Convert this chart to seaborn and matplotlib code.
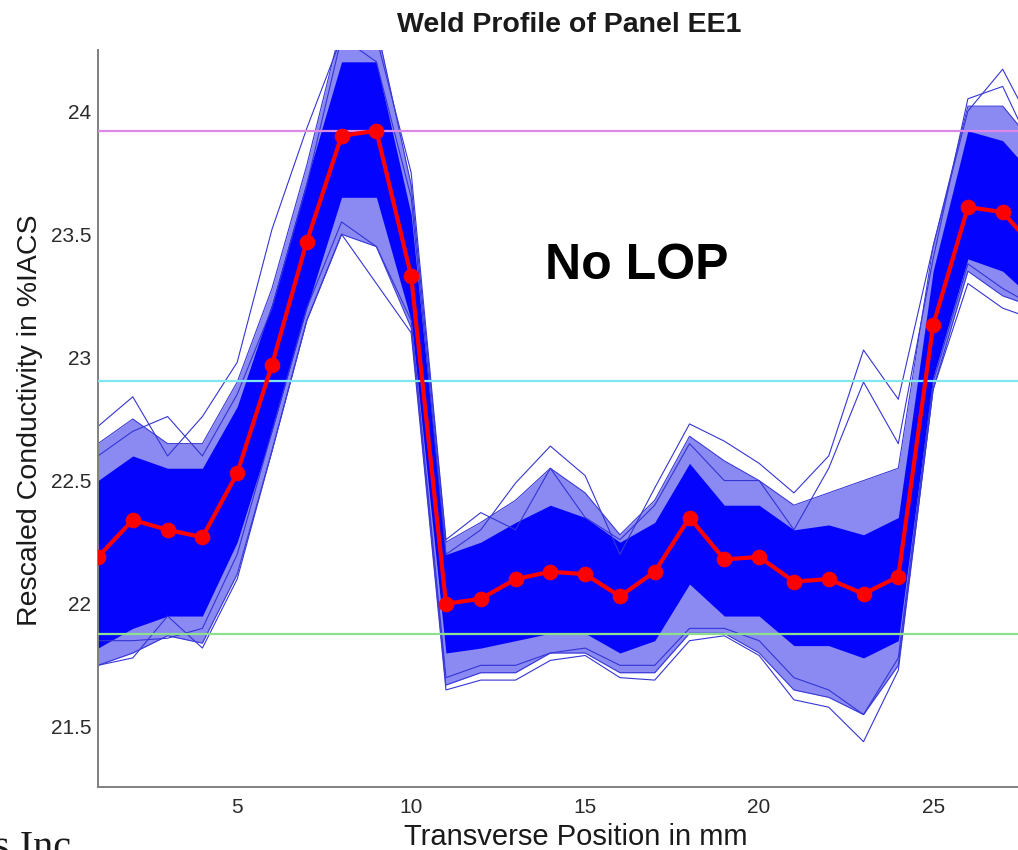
import numpy as np
import pandas as pd
import matplotlib
matplotlib.use("Agg")
import matplotlib.pyplot as plt
import seaborn as sns

# ---- data ----
positions = list(range(1, 29))
mean_profile = [22.19, 22.34, 22.30, 22.27, 22.53, 22.97, 23.47, 23.90, 23.92, 23.33,
                22.00, 22.02, 22.10, 22.13, 22.12, 22.03, 22.13, 22.35, 22.18, 22.19,
                22.09, 22.10, 22.04, 22.11, 23.13, 23.61, 23.59, 23.43]

# dense core of the individual scans
core_upper = [22.50, 22.60, 22.55, 22.55, 22.80, 23.22, 23.72, 24.20, 24.20, 23.58,
              22.20, 22.25, 22.33, 22.40, 22.35, 22.25, 22.33, 22.57, 22.40, 22.40,
              22.30, 22.32, 22.28, 22.35, 23.35, 23.92, 23.88, 23.72]
core_lower = [21.82, 21.90, 21.95, 21.95, 22.25, 22.70, 23.20, 23.65, 23.65, 23.15,
              21.80, 21.82, 21.85, 21.88, 21.88, 21.80, 21.85, 22.08, 21.95, 21.95,
              21.83, 21.83, 21.78, 21.85, 22.92, 23.40, 23.35, 23.22]

# sparse outer spread of the scans
outer_upper = [22.65, 22.75, 22.65, 22.65, 22.90, 23.28, 23.78, 24.35, 24.35, 23.70,
               22.25, 22.33, 22.42, 22.55, 22.45, 22.28, 22.42, 22.68, 22.58, 22.50,
               22.40, 22.45, 22.50, 22.55, 23.45, 24.02, 24.02, 23.85]
outer_lower = [21.75, 21.80, 21.87, 21.84, 22.12, 22.62, 23.15, 23.50, 23.45, 23.12,
               21.67, 21.72, 21.72, 21.80, 21.80, 21.72, 21.72, 21.88, 21.88, 21.80,
               21.65, 21.62, 21.55, 21.75, 22.87, 23.35, 23.25, 23.20]

# a few individual extreme scans
scan_hi_1 = [22.72, 22.84, 22.60, 22.76, 22.98, 23.52, 23.93, 24.30, 24.20, 23.65,
             22.20, 22.30, 22.49, 22.64, 22.52, 22.20, 22.47, 22.73, 22.66, 22.57,
             22.45, 22.60, 23.03, 22.83, 23.45, 24.00, 24.17, 23.90]
scan_hi_2 = [22.60, 22.70, 22.76, 22.60, 22.85, 23.20, 23.70, 24.30, 24.30, 23.75,
             22.26, 22.37, 22.30, 22.55, 22.35, 22.26, 22.40, 22.65, 22.50, 22.50,
             22.30, 22.55, 22.90, 22.65, 23.40, 24.05, 24.10, 23.80]
scan_lo_1 = [21.75, 21.78, 21.95, 21.82, 22.10, 22.62, 23.15, 23.50, 23.30, 23.10,
             21.65, 21.69, 21.69, 21.77, 21.79, 21.70, 21.69, 21.85, 21.87, 21.79,
             21.61, 21.58, 21.44, 21.73, 22.87, 23.30, 23.20, 23.15]
scan_lo_2 = [21.85, 21.85, 21.86, 21.90, 22.20, 22.70, 23.20, 23.55, 23.45, 23.15,
             21.70, 21.75, 21.75, 21.80, 21.82, 21.75, 21.75, 21.90, 21.90, 21.85,
             21.70, 21.65, 21.55, 21.78, 22.90, 23.38, 23.28, 23.20]

ref_levels = [23.92, 22.904, 21.877]
ref_colors = ["#DD88E6", "#80E6F2", "#8EE08E"]

x_ticks = [5, 10, 15, 20, 25]
y_ticks = [21.5, 22, 22.5, 23, 23.5, 24]

# ---- figure ----
sns.set_style("white")
plt.rcParams["font.family"] = ["Liberation Sans", "DejaVu Sans"]

W, H = 1018, 850
fig = plt.figure(figsize=(W / 100, H / 100), dpi=100)
ax = fig.add_axes([98 / W, 63 / H, (W - 98) / W, 737 / H])

blue = "#0000FF"
ax.fill_between(positions, outer_lower, outer_upper, color="#2A2AE8", alpha=0.55, lw=0)
scans = pd.DataFrame({"pos": positions * 4,
                      "val": scan_hi_1 + scan_hi_2 + scan_lo_1 + scan_lo_2,
                      "scan": ["h1"] * 28 + ["h2"] * 28 + ["l1"] * 28 + ["l2"] * 28})
sns.lineplot(data=scans, x="pos", y="val", units="scan", estimator=None,
             color="#3535D5", lw=0.8, ax=ax, legend=False)
ax.plot(positions, outer_upper, color="#3A3AD8", lw=0.8)
ax.plot(positions, outer_lower, color="#3A3AD8", lw=0.8)
ax.fill_between(positions, core_lower, core_upper, color=blue, alpha=0.97, lw=0)

for lvl, col in zip(ref_levels, ref_colors):
    ax.axhline(lvl, color=col, lw=1.6, zorder=3)

mean_df = pd.DataFrame({"pos": positions, "val": mean_profile})
sns.lineplot(data=mean_df, x="pos", y="val", color="#FF0000", lw=3.0,
             marker="o", markersize=10.5, markeredgecolor="#FF0000", ax=ax, zorder=5)

ax.set_xlim(1, 27.44)
ax.set_ylim(21.256, 24.248)
ax.set_xticks(x_ticks)
ax.set_yticks(y_ticks)
ax.set_yticklabels(["21.5", "22", "22.5", "23", "23.5", "24"])
ax.set_xlabel("")
ax.set_ylabel("")

for s in ["top", "right"]:
    ax.spines[s].set_visible(False)
for s in ["left", "bottom"]:
    ax.spines[s].set_color("#808080")
    ax.spines[s].set_linewidth(1.4)
ax.tick_params(axis="both", direction="in", length=7, width=1.3, color="#808080",
               labelsize=15, labelcolor="#2a2a2a")
ax.tick_params(axis="y", pad=5)
ax.tick_params(axis="x", pad=8)

fig.text(569 / W, 1 - 32 / H, "Weld Profile of Panel EE1", ha="center", va="baseline",
         fontsize=20.5, fontweight="bold", color="#1a1a1a")
fig.text(576 / W, 1 - 845 / H, "Transverse Position in mm", ha="center", va="baseline",
         fontsize=21, color="#1a1a1a")
fig.text(30 / W, 1 - 420 / H, "Rescaled Conductivity in %IACS", ha="center", va="center",
         rotation=90, fontsize=20.5, color="#1a1a1a")
fig.text(545 / W, 1 - 279 / H, "No LOP", ha="left", va="baseline",
         fontsize=36, fontweight="bold", color="black")
fig.text(-6 / W, 1 - 858 / H, "s Inc.", ha="left", va="baseline",
         fontsize=29, family=["Liberation Serif", "DejaVu Serif"], color="#1a1a1a")

fig.savefig("out.png", dpi=100)
